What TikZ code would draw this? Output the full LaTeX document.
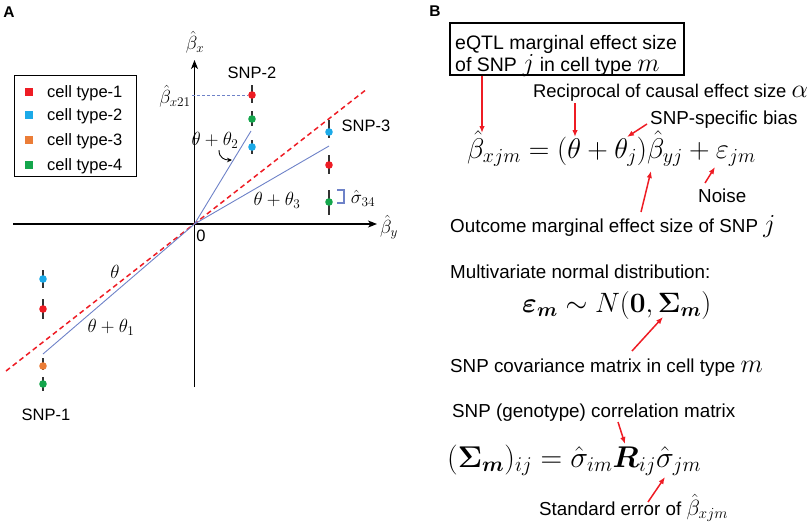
\RequirePackage{fix-cm}
\documentclass[tikz,border=0pt]{standalone}
\usepackage{amsmath}
\usepackage[no-math]{fontspec}
\setmainfont{Liberation Sans}
\usetikzlibrary{arrows.meta}
\definecolor{cred}{RGB}{238,28,36}
\definecolor{cblue}{RGB}{28,170,232}
\definecolor{corange}{RGB}{235,125,55}
\definecolor{cgreen}{RGB}{20,166,76}
\definecolor{lblue}{RGB}{110,130,200}
\definecolor{ebar}{RGB}{50,50,50}
\newcommand\szA{\fontsize{16.5}{19}\selectfont}
\newcommand\szAm{\fontsize{19}{22}\selectfont}
\newcommand\szB{\fontsize{18.8}{22}\selectfont}
\newcommand\szBox{\fontsize{19.5}{22}\selectfont}
\newcommand\bigmath[1]{{\fontsize{26}{28}\selectfont$#1$}}
\newcommand\snpdot[6]{%
  \draw[errbar] (#2,#5) -- (#2,#6);
  \node[dot, fill=#4] (#1) at (#2,#3) {};}
\begin{document}
\begin{tikzpicture}[x=1pt,y=-1pt,
  lab/.style={inner sep=0pt, anchor=base west},
  ctr/.style={inner sep=0pt},
  dot/.style={circle, inner sep=0pt, minimum size=7.6pt},
  sq/.style={rectangle, inner sep=0pt, minimum size=8pt},
  errbar/.style={draw=ebar, line width=1.5pt},
  rarrow/.style={draw=cred, line width=1.5pt, -{Latex[length=7pt,width=5.5pt]}},
  axis/.style={line width=1.2pt, -{Stealth[length=9pt,width=7pt,inset=2.5pt]}},
  fitline/.style={draw=lblue, line width=0.9pt},
]
\useasboundingbox (0,0) rectangle (810,530);

% panel labels
\node[ctr, font=\fontsize{15.5}{18}\selectfont\bfseries] (labA) at (9,12.5) {A};
\node[ctr, font=\fontsize{15.5}{18}\selectfont\bfseries] (labB) at (435,11) {B};

% ===== Panel A =====
\coordinate (O) at (194.5,224);
\coordinate (ytop) at (194.5,60);
\coordinate (ybot) at (194.5,387);
\coordinate (xl) at (13,224);
\coordinate (xr) at (377,224);
\draw[axis] (ybot) -- (ytop);
\draw[axis] (xl) -- (xr);
\node[ctr, font=\szAm] (bx) at (195,42.5) {$\hat\beta_x$};
\node[ctr, font=\szAm] (by) at (389,227) {$\hat\beta_y$};
\node[ctr, font=\szA] (zero) at (201,236) {0};

% reference line
\coordinate (rd1) at (6,371);
\coordinate (rd2) at (367,89);
\draw[cred, line width=1.5pt, dash pattern=on 5pt off 3.5pt] (rd1) -- (rd2);

% SNP lines
\coordinate (e1) at (43,354);
\coordinate (e2) at (251,131);
\coordinate (e3) at (329,146);
\draw[fitline] (O) -- (e1);
\draw[fitline] (O) -- (e2);
\draw[fitline] (O) -- (e3);

% SNP-2
\snpdot{s2r}{252}{95}{cred}{85}{103}
\snpdot{s2g}{252}{119}{cgreen}{111}{126}
\snpdot{s2b}{252}{147}{cblue}{140}{154}
% SNP-3
\snpdot{s3b}{329}{132}{cblue}{120}{138}
\snpdot{s3r}{329}{165}{cred}{155}{174}
\snpdot{s3g}{329}{202}{cgreen}{190}{215}
% SNP-1
\snpdot{s1b}{43}{279}{cblue}{270}{288}
\snpdot{s1r}{43}{309}{cred}{299}{319}
\snpdot{s1o}{43}{366}{corange}{358}{370}
\snpdot{s1g}{43}{384}{cgreen}{377}{391}

% beta_x21 guide
\draw[lblue, line width=0.9pt, dash pattern=on 3pt off 2pt] (192,95) -- (s2r.west);
\node[ctr, font=\szAm] (bx21) at (175,96) {$\hat\beta_{x21}$};

% labels
\node[ctr, font=\szA] (snp2) at (252,72.5) {SNP-2};
\node[ctr, font=\szA] (snp3) at (366,126) {SNP-3};
\node[ctr, font=\szA] (snp1) at (46,415) {SNP-1};
\node[ctr, font=\szAm] (th2) at (215,140) {$\theta+\theta_2$};
\node[ctr, font=\szAm] (th3) at (277,200) {$\theta+\theta_3$};
\node[ctr, font=\szAm] (th) at (115,272) {$\theta$};
\node[ctr, font=\szAm] (th1) at (111,327) {$\theta+\theta_1$};
\node[ctr, font=\szAm] (sig34) at (363,198) {$\hat\sigma_{34}$};
\coordinate (c2) at (232,160);
\draw[line width=0.9pt, -{Stealth[length=5pt,width=4.5pt]}] ([xshift=4pt,yshift=-2pt]th2.south) .. controls +(0,8) and +(-7,0) .. (c2);
\draw[lblue, line width=1.2pt] (337,190) -- (344,190) -- (344,203) -- (337,203);

% legend
\node[draw, line width=1pt, minimum width=122pt, minimum height=101pt, inner sep=0pt] (legend) at (75,125.5) {};
\node[sq, fill=cred] (q1) at (29,92) {};
\node[sq, fill=cblue] (q2) at (29,114.5) {};
\node[sq, fill=corange] (q3) at (29,139.5) {};
\node[sq, fill=cgreen] (q4) at (29,164.5) {};
\node[lab, font=\szA] (t1) at (47,97) {cell type-1};
\node[lab, font=\szA] (t2) at (47,120) {cell type-2};
\node[lab, font=\szA] (t3) at (47,145) {cell type-3};
\node[lab, font=\szA] (t4) at (47,170) {cell type-4};

% ===== Panel B =====
\node[draw, line width=1.2pt, minimum width=234pt, minimum height=52pt, inner sep=0pt] (box) at (567,49) {};
\node[lab, font=\szBox] (bl1) at (455,49.5) {eQTL marginal effect size};
\node[lab, font=\szBox] (bl2) at (455,71.5) {of SNP \bigmath{j} in cell type \bigmath{m}};

\node[lab, font=\fontsize{18.4}{22}\selectfont] (recip) at (533,97) {Reciprocal of causal effect size \bigmath{\alpha}};
\node[lab, font=\szB] (bias) at (650,124) {SNP-specific bias};
\node[lab, font=\fontsize{28.5}{32}\selectfont] (eq1) at (467,158) {$\hat\beta_{xjm} = (\theta+\theta_j)\hat\beta_{yj} + \varepsilon_{jm}$};
\node[lab, font=\szB] (noise) at (698,202) {Noise};
\node[lab, font=\szB] (outc) at (450,232) {Outcome marginal effect size of SNP \bigmath{j}};

\node[lab, font=\szB] (multi) at (450,278) {Multivariate normal distribution:};
\node[lab, font=\fontsize{28}{30}\selectfont] (eq2) at (522,312) {$\boldsymbol{\varepsilon}_{\boldsymbol{m}} \sim N(\mathbf{0},\boldsymbol{\Sigma}_{\boldsymbol{m}})$};
\node[lab, font=\szB] (cov) at (450,372) {SNP covariance matrix in cell type \bigmath{m}};
\node[lab, font=\szB] (corr) at (452,417) {SNP (genotype) correlation matrix};
\node[lab, font=\fontsize{30}{33}\selectfont] (eq3) at (447,467) {$(\boldsymbol{\Sigma}_{\boldsymbol{m}})_{ij} = \hat\sigma_{im}\boldsymbol{R}_{ij}\hat\sigma_{jm}$};
\node[lab, font=\szB] (stderr) at (539,515) {Standard error of {\fontsize{22}{24}\selectfont$\hat\beta_{xjm}$}};

% arrows
\coordinate (a1e) at (482,133);
\coordinate (a2e) at (575,137);
\coordinate (a3e) at (627,137);
\coordinate (a4s) at (641,212);
\coordinate (a4e) at (651,171);
\coordinate (a5s) at (705,183);
\coordinate (a5e) at (715,167);
\coordinate (a6s) at (632,351);
\coordinate (a6e) at (663,317);
\coordinate (a7s) at (618,422);
\coordinate (a7e) at (625,444);
\coordinate (a8s) at (648,502);
\coordinate (a8e) at (665,477);
\draw[rarrow] (box.south -| a1e) -- (a1e);
\draw[rarrow, shorten <=2pt] (recip.south -| a2e) -- (a2e);
\draw[rarrow] ([xshift=-3pt]bias.base west) -- (a3e);
\draw[rarrow] (a4s) -- (a4e);
\draw[rarrow] (a5s) -- (a5e);
\draw[rarrow] (a6s) -- (a6e);
\draw[rarrow] (a7s) -- (a7e);
\draw[rarrow] (a8s) -- (a8e);
\end{tikzpicture}
\end{document}
